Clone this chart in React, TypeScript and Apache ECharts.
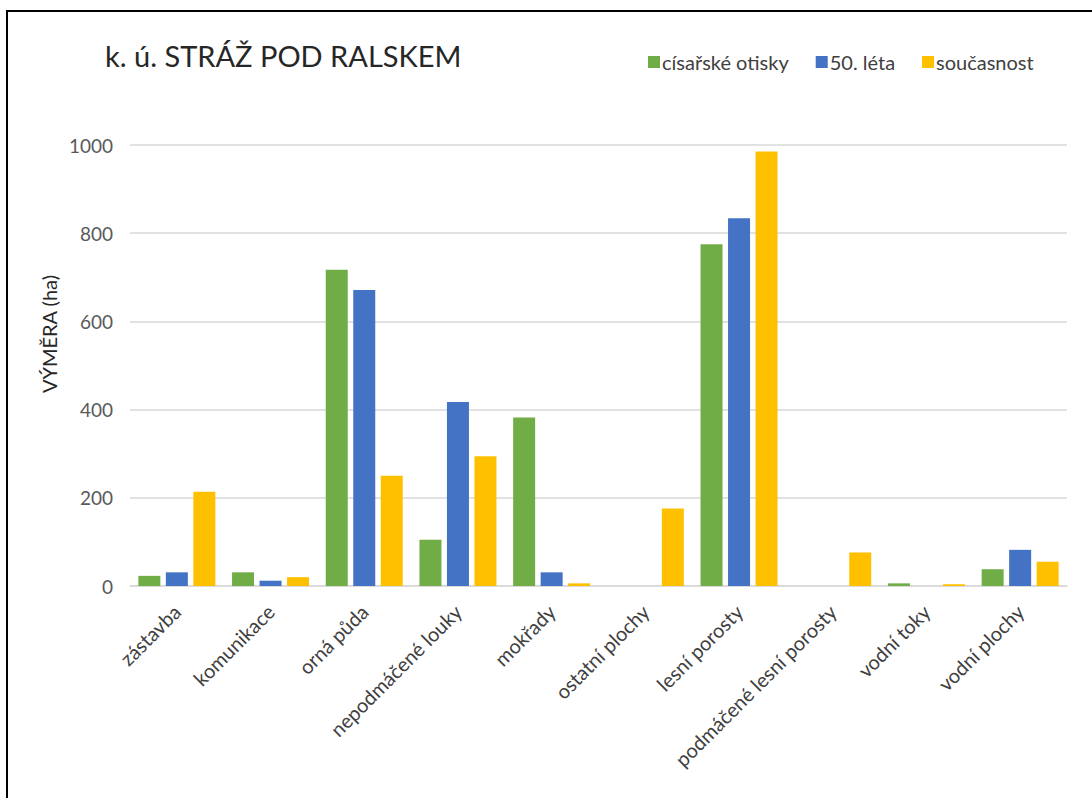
import React, { useEffect, useRef } from "react";
import * as echarts from "echarts";

const categories = [
  "zástavba",
  "komunikace",
  "orná půda",
  "nepodmáčené louky",
  "mokřady",
  "ostatní plochy",
  "lesní porosty",
  "podmáčené lesní porosty",
  "vodní toky",
  "vodní plochy",
];
const cisarskeOtisky = [23, 31, 717, 105, 382, 0, 775, 0, 6, 38];
const leta50 = [31, 12, 671, 417, 31, 0, 834, 0, 0, 82];
const soucasnost = [214, 20, 250, 294, 6, 176, 985, 76, 4, 55];
const seriesNames = ["císařské otisky", "50. léta", "současnost"];
const yTicks = [0, 200, 400, 600, 800, 1000];

const FONT = "Lato, 'Noto Sans', sans-serif";

export default function App() {
  const ref = useRef<HTMLDivElement>(null);
  useEffect(() => {
    if (!ref.current) return;
    const chart = echarts.init(ref.current, undefined, { renderer: "svg" });
    const colors = ["#70AD47", "#4472C4", "#FFC000"];
    const data = [cisarskeOtisky, leta50, soucasnost];
    chart.setOption({
      animation: false,
      backgroundColor: "#ffffff",
      textStyle: { fontFamily: FONT },
      title: {
        text: "k. ú. STRÁŽ POD RALSKEM",
        left: 100,
        top: 36,
        textStyle: { fontFamily: FONT, fontSize: 29, fontWeight: "normal", color: "#262626" },
      },
      legend: {
        data: seriesNames,
        left: 643,
        top: 47,
        icon: "rect",
        itemWidth: 12,
        itemHeight: 12,
        itemGap: 27,
        textStyle: { fontFamily: FONT, fontSize: 20, color: "#404040", padding: [0, 0, 0, -3] },
      },
      grid: { left: 130, right: 25, top: 145, bottom: 212, containLabel: false, outerBoundsMode: "none" },
      xAxis: {
        type: "category",
        data: categories,
        axisLine: { lineStyle: { color: "#D9D9D9", width: 1.5 } },
        axisTick: { show: false },
        axisLabel: {
          interval: 0,
          rotate: 45,
          margin: 22,
          fontFamily: FONT,
          fontSize: 20,
          color: "#404040",
        },
      },
      yAxis: {
        type: "value",
        min: yTicks[0],
        max: yTicks[yTicks.length - 1],
        interval: 200,
        axisLine: { show: false },
        axisTick: { show: false },
        axisLabel: {
          fontFamily: FONT,
          fontSize: 19,
          color: "#595959",
          margin: 17,
          formatter: (v: number) => String(v),
        },
        splitLine: { lineStyle: { color: "#D9D9D9", width: 1.5 } },
      },
      series: seriesNames.map((name, i) => ({
        name,
        type: "bar",
        data: data[i],
        barWidth: 22,
        barGap: "25%",
        itemStyle: { color: colors[i] },
      })),
      graphic: [
        {
          type: "rect",
          shape: { x: 7, y: 11, width: 1200, height: 900 },
          style: { fill: "none", stroke: "#000000", lineWidth: 2 },
          silent: true,
        },
        {
          type: "text",
          x: 49,
          y: 334,
          rotation: Math.PI / 2,
          style: {
            text: "VÝMĚRA (ha)",
            fontFamily: FONT,
            fontSize: 20,
            fill: "#262626",
            align: "center",
            verticalAlign: "middle",
          },
          silent: true,
        },
      ],
    });
    return () => chart.dispose();
  }, []);
  return (
    <div
      ref={ref}
      style={{ position: "fixed", left: 0, top: 0, width: 1092, height: 798 }}
    />
  );
}
